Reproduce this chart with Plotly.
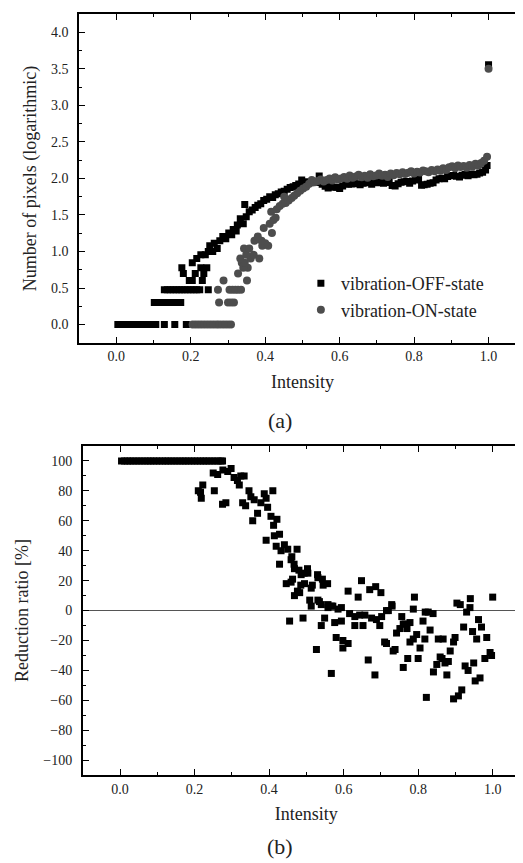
import plotly.graph_objects as go

# (a) vibration-OFF-state, log10 of pixel counts per intensity
off_x = [0.004, 0.012, 0.020, 0.027, 0.035, 0.043, 0.051, 0.059, 0.067, 0.075, 0.082, 0.090, 0.098, 0.106, 0.129, 0.157, 0.188,
         0.102, 0.110, 0.118, 0.125, 0.133, 0.141, 0.149, 0.157, 0.165, 0.173,
         0.129, 0.137, 0.145, 0.153, 0.161, 0.169, 0.176, 0.184, 0.192, 0.200, 0.208, 0.216, 0.224, 0.247,
         0.196, 0.231, 0.204, 0.180, 0.212, 0.235, 0.176, 0.227, 0.243, 0.204, 0.216, 0.227, 0.239, 0.247, 0.259,
         0.251, 0.263, 0.271, 0.278, 0.286, 0.294, 0.302, 0.310, 0.314, 0.322, 0.325, 0.333, 0.341, 0.345, 0.349,
         0.357, 0.365, 0.373, 0.380, 0.388, 0.396, 0.404, 0.412, 0.420, 0.427, 0.435, 0.443, 0.451, 0.459, 0.467,
         0.475, 0.482, 0.490, 0.498, 0.506, 0.514, 0.522, 0.529, 0.537, 0.545, 0.553, 0.561, 0.569, 0.576, 0.584,
         0.592, 0.600, 0.608, 0.616, 0.624, 0.631, 0.639, 0.647, 0.655, 0.663, 0.671, 0.678, 0.686, 0.694, 0.702,
         0.710, 0.718, 0.725, 0.733, 0.741, 0.749, 0.757, 0.765, 0.773, 0.780, 0.788, 0.796, 0.804, 0.812, 0.820,
         0.827, 0.835, 0.843, 0.851, 0.859, 0.867, 0.875, 0.882, 0.890, 0.898, 0.906, 0.914, 0.922, 0.929, 0.937,
         0.945, 0.953, 0.961, 0.969, 0.976, 0.984, 0.992, 0.996, 1.000]
off_y = [0, 0, 0, 0, 0, 0, 0, 0, 0, 0, 0, 0, 0, 0, 0, 0, 0,
         0.301, 0.301, 0.301, 0.301, 0.301, 0.301, 0.301, 0.301, 0.301, 0.301,
         0.477, 0.477, 0.477, 0.477, 0.477, 0.477, 0.477, 0.477, 0.477, 0.477, 0.477, 0.477, 0.477, 0.477,
         0.602, 0.602, 0.602, 0.699, 0.699, 0.699, 0.778, 0.778, 0.778, 0.845, 0.903, 0.954, 0.954, 1.0, 1.0,
         1.079, 1.114, 1.041, 1.146, 1.204, 1.176, 1.255, 1.230, 1.301, 1.279, 1.362, 1.447, 1.380, 1.643, 1.477,
         1.544, 1.568, 1.602, 1.633, 1.653, 1.699, 1.716, 1.748, 1.740, 1.778, 1.792, 1.813, 1.826, 1.851, 1.875,
         1.886, 1.903, 1.924, 1.978, 1.954, 1.929, 1.940, 1.959, 1.944, 2.033, 1.919, 1.892, 1.869, 1.892, 1.881,
         1.881, 1.863, 1.898, 1.929, 1.919, 1.924, 1.944, 1.929, 1.914, 1.934, 1.940, 1.944, 1.919, 1.949, 1.940,
         1.954, 1.934, 1.944, 1.964, 1.903, 1.898, 1.929, 1.949, 1.954, 1.959, 1.934, 1.964, 1.978, 1.987, 1.908,
         1.914, 1.919, 1.934, 1.940, 1.978, 1.996, 2.004, 1.996, 2.025, 2.037, 2.041, 2.029, 2.021, 2.045, 2.053,
         2.037, 2.061, 2.049, 2.057, 2.076, 2.086, 2.114, 2.176, 3.556]

# (a) vibration-ON-state
on_x = [0.205, 0.213, 0.221, 0.229, 0.237, 0.245, 0.253, 0.261, 0.269, 0.276, 0.284, 0.292, 0.300, 0.308,
        0.276, 0.300, 0.308, 0.316, 0.273, 0.304, 0.312, 0.320, 0.327, 0.335,
        0.288, 0.351, 0.327, 0.353, 0.341, 0.337, 0.345, 0.333, 0.384, 0.361, 0.369, 0.349, 0.343, 0.357,
        0.408, 0.392, 0.400, 0.390, 0.371, 0.380, 0.418,
        0.396, 0.412, 0.422, 0.428, 0.416, 0.431, 0.439, 0.447, 0.455, 0.463, 0.471, 0.451, 0.478, 0.486, 0.494,
        0.502, 0.510, 0.518, 0.525, 0.533, 0.541, 0.549, 0.557, 0.565, 0.573, 0.580, 0.588, 0.596, 0.604, 0.612,
        0.620, 0.627, 0.635, 0.643, 0.651, 0.659, 0.667, 0.675, 0.682, 0.690, 0.698, 0.706, 0.714, 0.722, 0.729,
        0.737, 0.745, 0.753, 0.761, 0.769, 0.776, 0.784, 0.792, 0.800, 0.808, 0.816, 0.824, 0.831, 0.839, 0.847,
        0.855, 0.863, 0.871, 0.878, 0.886, 0.894, 0.902, 0.910, 0.918, 0.925, 0.933, 0.941, 0.949, 0.957, 0.965,
        0.973, 0.980, 0.988, 0.996, 1.000]
on_y = [0, 0, 0, 0, 0, 0, 0, 0, 0, 0, 0, 0, 0, 0,
        0.301, 0.301, 0.301, 0.301, 0.477, 0.477, 0.477, 0.477, 0.477, 0.477,
        0.602, 0.602, 0.699, 0.778, 0.778, 0.845, 0.845, 0.903, 0.903, 0.903, 0.954, 0.954, 1.041, 1.041,
        1.079, 1.079, 1.114, 1.146, 1.146, 1.204, 1.255,
        1.322, 1.380, 1.431, 1.462, 1.544, 1.580, 1.623, 1.653, 1.663, 1.699, 1.732, 1.748, 1.763, 1.799, 1.833,
        1.863, 1.886, 1.929, 1.980, 1.949, 1.964, 1.987, 1.959, 1.978, 2.000, 1.973, 2.017, 1.987, 2.000, 2.021,
        1.996, 2.041, 2.009, 2.025, 2.049, 2.017, 2.037, 2.009, 2.057, 2.029, 2.041, 2.068, 2.037, 2.049, 2.021,
        2.068, 2.045, 2.076, 2.057, 2.086, 2.061, 2.079, 2.100, 2.068, 2.093, 2.083, 2.107, 2.097, 2.086, 2.114,
        2.100, 2.121, 2.104, 2.140, 2.114, 2.152, 2.167, 2.140, 2.176, 2.155, 2.170, 2.146, 2.185, 2.164, 2.200,
        2.176, 2.212, 2.241, 2.297, 3.500]

# (b) reduction ratio [%]
red_x = [0.004, 0.012, 0.020, 0.027, 0.035, 0.043, 0.051, 0.059, 0.067, 0.075, 0.082, 0.090, 0.098, 0.106,
         0.114, 0.122, 0.129, 0.137, 0.145, 0.153, 0.161, 0.169, 0.176, 0.184, 0.192, 0.200, 0.208, 0.216,
         0.224, 0.231, 0.239, 0.247, 0.255, 0.263, 0.271, 0.275,
         0.210, 0.216, 0.222, 0.218, 0.250, 0.262, 0.253, 0.275, 0.284, 0.276, 0.289, 0.298, 0.306, 0.315,
         0.320, 0.324, 0.333, 0.329, 0.337, 0.346, 0.351, 0.360, 0.356, 0.369, 0.378, 0.387, 0.396, 0.392,
         0.410, 0.405, 0.421, 0.412, 0.392, 0.414, 0.428, 0.419, 0.441, 0.432, 0.450, 0.475, 0.428, 0.459,
         0.468, 0.446, 0.459, 0.468, 0.482, 0.486, 0.504, 0.495, 0.513, 0.531, 0.545, 0.509, 0.513, 0.531,
         0.540, 0.461, 0.467, 0.480, 0.503, 0.494, 0.530, 0.463, 0.485, 0.476, 0.516, 0.543, 0.557,
         0.558, 0.571, 0.585, 0.612, 0.639, 0.648, 0.670, 0.686, 0.700, 0.730, 0.720, 0.790, 0.787, 0.904,
         0.913, 0.940, 1.000, 0.819, 0.840,
         0.616, 0.630, 0.643, 0.657, 0.675, 0.688, 0.702, 0.715, 0.729, 0.630, 0.652, 0.697, 0.580, 0.598,
         0.612, 0.598, 0.527, 0.756, 0.760, 0.715, 0.738, 0.666, 0.567, 0.684, 0.455, 0.491, 0.549, 0.576,
         0.594, 0.540, 0.558, 0.594, 0.535, 0.567,
         0.733, 0.742, 0.751, 0.765, 0.770, 0.778, 0.760, 0.772, 0.778, 0.787, 0.796, 0.805, 0.800, 0.813,
         0.818, 0.822, 0.827, 0.832, 0.841, 0.850, 0.854, 0.867, 0.859, 0.864, 0.872, 0.877, 0.881, 0.886,
         0.895, 0.899, 0.895, 0.908, 0.917, 0.922, 0.926, 0.934, 0.930, 0.939, 0.946, 0.949, 0.953, 0.966,
         0.957, 0.962, 0.970, 0.979, 0.984, 0.993, 0.997, 0.710]
red_y = [100, 100, 100, 100, 100, 100, 100, 100, 100, 100, 100, 100, 100, 100,
         100, 100, 100, 100, 100, 100, 100, 100, 100, 100, 100, 100, 100, 100,
         100, 100, 100, 100, 100, 100, 100, 100,
         80, 79, 84, 75, 92, 91, 80, 71, 72, 94, 93, 95, 89, 87,
         84, 90, 90, 72, 70, 80, 76, 74, 60, 65, 72, 78, 69, 75,
         80, 63, 61, 57, 47, 50, 51, 43, 44, 40, 41, 41, 31, 34,
         28, 18, 19, 10, 12, 24, 25, 18, 15, 22, 17, 7, 3, 7,
         4, 36, 31, 27, 28, 25, 24, 21, 17, 13, 17, 21, 18,
         2, 3, 1, 13, 9, 20, 14, 16, 12, 3, 0, 9, 1, 5,
         4, 8, 9, -1, -2,
         -2, -4, -3, -3, -5, -6, -4, 0, 4, -10, -10, -10, -18, -20,
         -22, -25, -26, -4, -9, -22, -26, -33, -42, -43, -7, -5, -5, -8,
         -7, -10, 4, 2, 6, 3,
         -27, -15, -12, -9, -12, -8, -38, -32, -21, -19, -16, -25, -32, -7,
         -19, -58, -1, -13, -41, -36, -19, -19, -31, -32, -35, -43, -34, -27,
         -21, -18, -59, -57, -53, -11, -37, -40, -1, 2, -14, -35, -47, -45,
         -19, -6, -11, -32, -18, -28, -30, -21]

FONT = "Liberation Serif"

fig = go.Figure()
fig.add_trace(go.Scatter(x=off_x, y=off_y, mode="markers", name="vibration-OFF-state",
                         marker=dict(symbol="square", size=7, color="black"), xaxis="x", yaxis="y"))
fig.add_trace(go.Scatter(x=on_x, y=on_y, mode="markers", name="vibration-ON-state",
                         marker=dict(symbol="circle", size=8, color="#4d4d4d"), xaxis="x", yaxis="y"))
fig.add_trace(go.Scatter(x=red_x, y=red_y, mode="markers", showlegend=False,
                         marker=dict(symbol="square", size=7, color="black"), xaxis="x2", yaxis="y2"))

axis_common = dict(showline=True, linecolor="black", linewidth=1.5, mirror="ticks",
                   ticks="inside", ticklen=6, tickwidth=1, tickcolor="black",
                   showgrid=False, zeroline=False,
                   tickfont=dict(family=FONT, size=14, color="#222"))

fig.update_layout(
    width=523, height=863,
    margin=dict(l=0, r=0, t=0, b=0),
    paper_bgcolor="white", plot_bgcolor="white",
    font=dict(family=FONT, color="#222"),
    xaxis=dict(axis_common, domain=[0.136, 0.99], anchor="y", range=[-0.1, 1.1],
               tickvals=[0.0, 0.2, 0.4, 0.6, 0.8, 1.0], tickformat=".1f",
               minor=dict(ticks="inside", ticklen=3, dtick=0.1, tick0=0, tickcolor="black"),
               title=dict(text="Intensity", font=dict(family=FONT, size=18), standoff=12)),
    yaxis=dict(axis_common, domain=[0.612, 0.993], anchor="x", range=[-0.25, 4.25],
               dtick=0.5, tickformat=".1f", ticklabelstandoff=6,
               minor=dict(ticks="inside", ticklen=3, dtick=0.25, tick0=0, tickcolor="black"),
               title=dict(text="Number of pixels (logarithmic)", font=dict(family=FONT, size=18), standoff=10)),
    xaxis2=dict(axis_common, domain=[0.143, 0.998], anchor="y2", range=[-0.1, 1.1],
                tickvals=[0.0, 0.2, 0.4, 0.6, 0.8, 1.0], tickformat=".1f",
                minor=dict(ticks="inside", ticklen=3, dtick=0.1, tick0=0, tickcolor="black"),
                title=dict(text="Intensity", font=dict(family=FONT, size=18), standoff=12)),
    yaxis2=dict(axis_common, domain=[0.111, 0.4925], anchor="x2", range=[-110, 110],
                dtick=20, ticklabelstandoff=6, zeroline=True, zerolinecolor="#555", zerolinewidth=1,
                minor=dict(ticks="inside", ticklen=3, dtick=10, tick0=0, tickcolor="black"),
                title=dict(text="Reduction ratio [%]", font=dict(family=FONT, size=18), standoff=10)),
    legend=dict(x=0.56, y=0.702, xanchor="left", yanchor="top", bgcolor="rgba(0,0,0,0)",
                font=dict(family=FONT, size=18, color="#222"), itemsizing="trace"),
    annotations=[
        dict(text="(a)", x=0.52, y=0.522, xref="paper", yref="paper", showarrow=False,
             font=dict(family=FONT, size=22, color="#222")),
        dict(text="(b)", x=0.52, y=0.012, xref="paper", yref="paper", showarrow=False,
             font=dict(family=FONT, size=22, color="#222")),
    ],
)

fig.write_html("out.html")
